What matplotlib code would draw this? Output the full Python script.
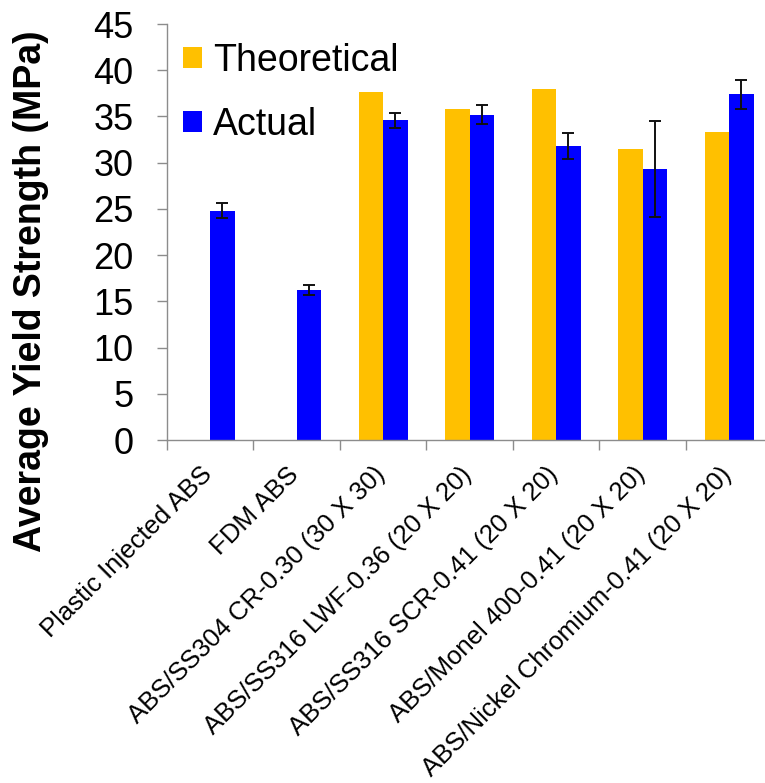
import matplotlib.pyplot as plt
import matplotlib.transforms as mtransforms
import numpy as np

plt.rcParams['font.family'] = ['Liberation Sans', 'DejaVu Sans']

# sample groups
categories = ['Plastic Injected ABS', 'FDM ABS', 'ABS/SS304 CR-0.30 (30 X 30)',
              'ABS/SS316 LWF-0.36 (20 X 20)', 'ABS/SS316 SCR-0.41 (20 X 20)',
              'ABS/Monel 400-0.41 (20 X 20)', 'ABS/Nickel Chromium-0.41 (20 X 20)']

# yield strength in MPa (no theoretical value for the plain ABS samples)
theoretical = [np.nan, np.nan, 37.6, 35.8, 38.0, 31.5, 33.3]
actual = [24.8, 16.2, 34.6, 35.2, 31.8, 29.3, 37.4]
actual_err = [0.8, 0.55, 0.8, 1.05, 1.4, 5.2, 1.6]

yticks = [0, 5, 10, 15, 20, 25, 30, 35, 40, 45]

fig = plt.figure(figsize=(7.65, 7.83), dpi=100)
ax = fig.add_axes([0.2183, 0.438, 0.7915, 0.5313])

x = np.arange(len(categories))
w = 0.283
ax.bar(x - w / 2, theoretical, w, color='#FFC000', label='Theoretical')
ax.bar(x + w / 2, actual, w, color='#0000FF', label='Actual')
ax.errorbar(x + w / 2, actual, yerr=actual_err, fmt='none', ecolor='#111111',
            elinewidth=1.4, capsize=4.5, capthick=1.4)

ax.set_xlim(-0.5, len(categories) - 0.5)
ax.set_ylim(0, 45)
ax.set_yticks(yticks)

# category labels in the middle, tick marks on the group boundaries
ax.set_xticks(x)
ax.set_xticklabels(categories, rotation=45, ha='right', fontsize=18.5)
ax.set_xticks(np.arange(len(categories) + 1) - 0.5, minor=True)
ax.tick_params(axis='x', which='major', length=0, pad=16)
ax.tick_params(axis='x', which='minor', length=7.2, width=1, color='#8c8c8c')
ax.tick_params(axis='y', length=7.2, width=1, color='#8c8c8c', labelsize=26, pad=17)

# nudge the slanted labels so they end just past the group centre
shift = mtransforms.ScaledTranslation(5 / 72, 0, fig.dpi_scale_trans)
for lbl in ax.get_xticklabels():
    lbl.set_transform(lbl.get_transform() + shift)

for side in ['top', 'right']:
    ax.spines[side].set_visible(False)
for side in ['left', 'bottom']:
    ax.spines[side].set_color('#8c8c8c')
    ax.spines[side].set_linewidth(1)

ax.set_ylabel('Average Yield Strength (MPa)', fontsize=27, fontweight='bold')
ax.yaxis.set_label_coords(-0.195, 0.357)

ax.legend(loc='upper left', bbox_to_anchor=(0.027, 0.955), frameon=False,
          fontsize=27, handlelength=0.5, handleheight=0.5, handletextpad=0.3,
          labelspacing=0.75, borderpad=0, borderaxespad=0)

fig.savefig('out.png', dpi=100)
